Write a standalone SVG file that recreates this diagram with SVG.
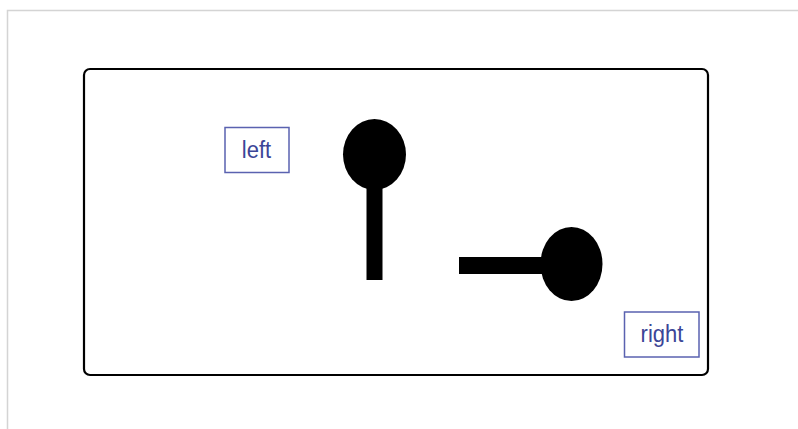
<svg xmlns="http://www.w3.org/2000/svg" width="798" height="429" viewBox="0 0 798 429">
<style>
.frame{fill:none;stroke:#d4d4d4;stroke-width:1.5}
.panel{fill:#ffffff;stroke:#000000;stroke-width:2.2}
.lbl rect{fill:#ffffff;stroke:#5a62b0;stroke-width:1.5}
.lbl text{font-family:"Liberation Sans",Arial,sans-serif;font-size:22px;fill:#3b4597;text-anchor:middle}
.pin{fill:#000000;stroke:none}
</style>
<rect x="0" y="0" width="798" height="429" fill="#ffffff"/>
<rect class="frame" x="7.5" y="10.5" width="800" height="430"/>
<rect class="panel" x="84" y="69" width="624" height="306" rx="6" ry="6"/>
<g id="left">
<g class="lbl">
<rect x="225" y="127.5" width="64" height="45"/>
<text transform="translate(256.5,158.3) scale(1,1.1)">left</text>
</g>
</g>
<g id="right">
<g class="lbl">
<rect x="624.5" y="312" width="74.5" height="45"/>
<text transform="translate(662,342.3) scale(1,1.1)">right</text>
</g>
</g>
<g id="connectors">
<g id="pin-vertical" class="pin">
<rect x="366.5" y="180" width="16" height="100"/>
<ellipse cx="374.5" cy="154.5" rx="31.5" ry="35.5"/>
</g>
<g id="pin-horizontal" class="pin">
<rect x="459" y="257" width="90" height="17"/>
<ellipse cx="571.5" cy="264" rx="31" ry="37"/>
</g>
</g>
</svg>
